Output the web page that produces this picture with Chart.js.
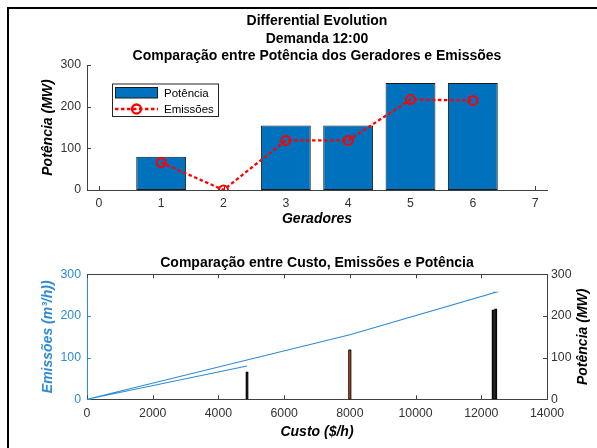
<!DOCTYPE html>
<html>
<head>
<meta charset="utf-8">
<script src="https://cdn.jsdelivr.net/npm/chart.js@4/dist/chart.umd.min.js"></script>
<style>
  html, body { margin: 0; padding: 0; background: #fff; }
  #wrap { position: relative; width: 597px; height: 448px; overflow: hidden; background: #fff; }
  #frame { position: absolute; left: 7px; top: 7px; width: 620px; height: 470px;
           border-top: 2px solid #000; border-left: 2px solid #000; pointer-events: none; }
  canvas { position: absolute; left: 0; }
</style>
</head>
<body>
<div id="wrap">
  <canvas id="c1" width="597" height="240" style="top:0;width:597px;height:240px"></canvas>
  <canvas id="c2" width="597" height="208" style="top:240px;width:597px;height:208px"></canvas>
  <div id="frame"></div>
</div>
<script>
// ---- data -------------------------------------------------------------
const geradores = [1, 2, 3, 4, 5, 6];
const potencia  = [80, 0, 155, 155, 257, 257];      // MW
const emissoes  = [66, 0, 119, 119, 217, 215];      // m3/h
const custo     = [4870, 0, 8000, 8000, 12440, 12360]; // $/h
const corBarraCusto = ['#111111', '#111111', '#D95319', '#D95319', '#111111', '#111111'];

const ticksGeradores = [0, 1, 2, 3, 4, 5, 6, 7];
const ticksPotencia  = [0, 100, 200, 300];
const ticksCusto     = [0, 2000, 4000, 6000, 8000, 10000, 12000, 14000];

const tituloGeral = ['Differential Evolution', 'Demanda 12:00',
                     'Comparação entre Potência dos Geradores e Emissões'];
const tituloCusto = 'Comparação entre Custo, Emissões e Potência';

// ---- styling ----------------------------------------------------------
const FONT = "'Liberation Sans', Arial, Helvetica, sans-serif";
const AXIS = '#404040';
const TXT = '#333333';
const AZUL = '#0072BD';
const AZUL_EIXO = '#2f8bd3';
const VERMELHO = '#ff0000';
const TICK_SIZE = 12.3;
const LEGEND_SIZE = 11.5;
const LABEL_SIZE = 14;

Chart.defaults.font.family = FONT;
Chart.defaults.color = TXT;

const setTicks = (values) => (scale) => { scale.ticks = values.map(v => ({ value: v })); };
const plainLabel = (v) => String(v);
const noGrid = { display: false, drawTicks: false, drawOnChartArea: false };

// tick marks drawn on the inside of the axes
const inwardTicks = {
  id: 'inwardTicks',
  beforeDatasetsDraw(chart, args, opts) {
    const { ctx, chartArea: a } = chart;
    const len = opts.length || 4;
    ctx.save();
    ctx.lineWidth = 1;
    for (const m of (opts.marks || [])) {
      const sc = chart.scales[m.scale];
      ctx.strokeStyle = m.color;
      ctx.beginPath();
      for (const t of sc.ticks) {
        const p = Math.round(sc.getPixelForValue(t.value)) + 0.5;
        if (m.edge === 'bottom') { ctx.moveTo(p, a.bottom); ctx.lineTo(p, a.bottom - len); }
        if (m.edge === 'top')    { ctx.moveTo(p, a.top);    ctx.lineTo(p, a.top + len); }
        if (m.edge === 'left')   { ctx.moveTo(a.left, p);   ctx.lineTo(a.left + len, p); }
        if (m.edge === 'right')  { ctx.moveTo(a.right, p);  ctx.lineTo(a.right - len, p); }
      }
      ctx.stroke();
    }
    if (opts.topBorder) {
      ctx.strokeStyle = AXIS;
      ctx.beginPath();
      ctx.moveTo(a.left, Math.round(a.top) + 0.5);
      ctx.lineTo(a.right, Math.round(a.top) + 0.5);
      ctx.stroke();
    }
    ctx.restore();
  }
};

// centred headings and rotated side labels
const headings = {
  id: 'headings',
  afterDraw(chart, args, opts) {
    const { ctx, chartArea: a } = chart;
    for (const h of (opts.items || [])) {
      ctx.save();
      ctx.font = h.font;
      ctx.fillStyle = h.color || '#000';
      ctx.textAlign = 'center';
      ctx.textBaseline = 'middle';
      if (h.rotate) {
        ctx.translate(h.x, (a.top + a.bottom) / 2);
        ctx.rotate(-Math.PI / 2);
        ctx.fillText(h.text, 0, 0);
      } else {
        ctx.fillText(h.text, (a.left + a.right) / 2, h.y);
      }
      ctx.restore();
    }
  }
};

// boxed legend inside the plot
const boxLegend = {
  id: 'boxLegend',
  afterDraw(chart, args, opts) {
    if (!opts.display) return;
    const { ctx } = chart;
    const barDs = chart.data.datasets.find(d => d.type !== 'line');
    const lineDs = chart.data.datasets.find(d => d.type === 'line');
    const x0 = 112, y0 = 83.5, w = 106, h = 32.5;
    ctx.save();
    ctx.fillStyle = '#fff';
    ctx.fillRect(x0, y0, w, h);
    ctx.strokeStyle = '#262626';
    ctx.lineWidth = 1;
    ctx.strokeRect(x0 + 0.5, y0 + 0.5, w, h);
    // bar swatch
    ctx.fillStyle = barDs.backgroundColor;
    ctx.fillRect(115, 87.5, 43, 10.5);
    ctx.strokeStyle = '#1a1a1a';
    ctx.strokeRect(115.5, 87.5, 42, 10.5);
    // line swatch
    ctx.strokeStyle = lineDs.borderColor;
    ctx.lineWidth = lineDs.borderWidth;
    ctx.setLineDash(lineDs.borderDash);
    ctx.beginPath();
    ctx.moveTo(115, 109); ctx.lineTo(158, 109);
    ctx.stroke();
    ctx.setLineDash([]);
    ctx.beginPath();
    ctx.arc(136.5, 109, lineDs.pointRadius, 0, Math.PI * 2);
    ctx.stroke();
    // text
    ctx.fillStyle = '#000';
    ctx.font = LEGEND_SIZE + 'px ' + FONT;
    ctx.textAlign = 'left';
    ctx.textBaseline = 'middle';
    ctx.fillText(barDs.label, 164, 93.5);
    ctx.fillText(lineDs.label, 164, 109.5);
    ctx.restore();
  }
};

Chart.register(inwardTicks, headings, boxLegend);

// ---- upper chart: power per generator with emissions -----------------
new Chart(document.getElementById('c1'), {
  type: 'bar',
  data: {
    datasets: [
      {
        type: 'line',
        label: 'Emissões',
        data: geradores.map((g, i) => ({ x: g, y: emissoes[i] })),
        borderColor: VERMELHO,
        borderWidth: 2.3,
        borderDash: [3.5, 2.5],
        pointRadius: 4.5,
        pointBorderWidth: 2,
        pointBorderColor: VERMELHO,
        pointBackgroundColor: 'rgba(0,0,0,0)',
        tension: 0,
        order: 0
      },
      {
        type: 'bar',
        label: 'Potência',
        data: geradores.map((g, i) => ({ x: g, y: potencia[i] })),
        backgroundColor: AZUL,
        borderColor: '#1a1a1a',
        borderWidth: 1,
        borderSkipped: false,
        barPercentage: 0.8,
        categoryPercentage: 1,
        order: 1
      }
    ]
  },
  options: {
    responsive: false,
    animation: false,
    events: [],
    layout: { padding: { top: 65, left: 0, right: 50, bottom: 0 } },
    plugins: {
      legend: { display: false },
      tooltip: { enabled: false },
      title: { display: false },
      boxLegend: { display: true },
      inwardTicks: {
        length: 4,
        marks: [{ scale: 'x', edge: 'bottom', color: AXIS }, { scale: 'y', edge: 'left', color: AXIS }]
      },
      headings: {
        items: [
          { text: tituloGeral[0], y: 21.5, font: 'bold ' + LABEL_SIZE + 'px ' + FONT, color: '#000' },
          { text: tituloGeral[1], y: 39,   font: 'bold ' + LABEL_SIZE + 'px ' + FONT, color: '#000' },
          { text: tituloGeral[2], y: 56.3, font: 'bold ' + LABEL_SIZE + 'px ' + FONT, color: '#000' }
        ]
      }
    },
    scales: {
      x: {
        type: 'linear',
        offset: false,
        min: -0.19, max: 7.19,
        afterBuildTicks: setTicks(ticksGeradores),
        afterFit(scale) { scale.height = 50; },
        grid: noGrid,
        border: { display: true, color: AXIS, width: 1 },
        ticks: { color: TXT, font: { size: TICK_SIZE }, padding: 6.6, maxRotation: 0, callback: plainLabel },
        title: { display: true, text: 'Geradores', color: '#000',
                 font: { size: LABEL_SIZE, weight: 'bold', style: 'italic' }, padding: { top: 0, bottom: 12.6 } }
      },
      y: {
        min: 0, max: 300,
        afterBuildTicks: setTicks(ticksPotencia),
        afterFit(scale) { scale.width = 87; },
        grid: noGrid,
        border: { display: true, color: AXIS, width: 1 },
        ticks: { color: TXT, font: { size: TICK_SIZE }, padding: 6, callback: plainLabel },
        title: { display: true, text: 'Potência (MW)', color: '#000',
                 font: { size: LABEL_SIZE, weight: 'bold', style: 'italic' }, padding: { top: 39.6, bottom: 0 } }
      }
    }
  }
});

// ---- lower chart: cost vs power (line) and emissions (bars) ------------
new Chart(document.getElementById('c2'), {
  type: 'bar',
  data: {
    datasets: [
      {
        type: 'line',
        label: 'Potência',
        data: custo.map((c, i) => ({ x: c, y: potencia[i] })),
        borderColor: AZUL_EIXO,
        borderWidth: 1.1,
        pointRadius: 0,
        tension: 0,
        yAxisID: 'y',
        order: 0
      },
      {
        type: 'bar',
        label: 'Emissões',
        data: custo.map((c, i) => ({ x: c, y: emissoes[i] })),
        backgroundColor: corBarraCusto,
        borderColor: '#000',
        borderWidth: 1,
        borderSkipped: false,
        barThickness: 2.5,
        grouped: false,
        yAxisID: 'y1',
        order: 1
      }
    ]
  },
  options: {
    responsive: false,
    animation: false,
    events: [],
    layout: { padding: { top: 34.3, left: 0, right: 0, bottom: 0 } },
    plugins: {
      legend: { display: false },
      tooltip: { enabled: false },
      title: { display: false },
      boxLegend: { display: false },
      inwardTicks: {
        length: 4,
        topBorder: true,
        marks: [
          { scale: 'x', edge: 'bottom', color: AXIS },
          { scale: 'x', edge: 'top', color: AXIS },
          { scale: 'y', edge: 'left', color: AZUL_EIXO },
          { scale: 'y1', edge: 'right', color: AXIS }
        ]
      },
      headings: {
        items: [
          { text: tituloCusto, y: 23.3, font: 'bold ' + LABEL_SIZE + 'px ' + FONT, color: '#000' },
          { text: 'Potência (MW)', rotate: true, x: 583.5,
            font: 'italic bold ' + LABEL_SIZE + 'px ' + FONT, color: '#000' }
        ]
      }
    },
    scales: {
      x: {
        type: 'linear',
        offset: false,
        min: 0, max: 14000,
        afterBuildTicks: setTicks(ticksCusto),
        afterFit(scale) { scale.height = 48.7; },
        grid: noGrid,
        border: { display: true, color: AXIS, width: 1 },
        ticks: { color: TXT, font: { size: TICK_SIZE }, padding: 6.6, maxRotation: 0, callback: plainLabel },
        title: { display: true, text: 'Custo ($/h)', color: '#000',
                 font: { size: LABEL_SIZE, weight: 'bold', style: 'italic' }, padding: { top: 0, bottom: 7.9 } }
      },
      y: {
        position: 'left',
        min: 0, max: 300,
        afterBuildTicks: setTicks(ticksPotencia),
        afterFit(scale) { scale.width = 87; },
        grid: noGrid,
        border: { display: true, color: AZUL_EIXO, width: 1 },
        ticks: { color: AZUL_EIXO, font: { size: TICK_SIZE }, padding: 6, callback: plainLabel },
        title: { display: true, text: 'Emissões (m³/h))', color: AZUL_EIXO,
                 font: { size: LABEL_SIZE, weight: 'bold', style: 'italic' }, padding: { top: 39.9, bottom: 0 } }
      },
      y1: {
        position: 'right',
        min: 0, max: 300,
        afterBuildTicks: setTicks(ticksPotencia),
        afterFit(scale) { scale.width = 50; },
        grid: noGrid,
        border: { display: true, color: AXIS, width: 1 },
        ticks: { color: TXT, font: { size: TICK_SIZE }, padding: 4, callback: plainLabel },
        title: { display: false }
      }
    }
  }
});
</script>
</body>
</html>
